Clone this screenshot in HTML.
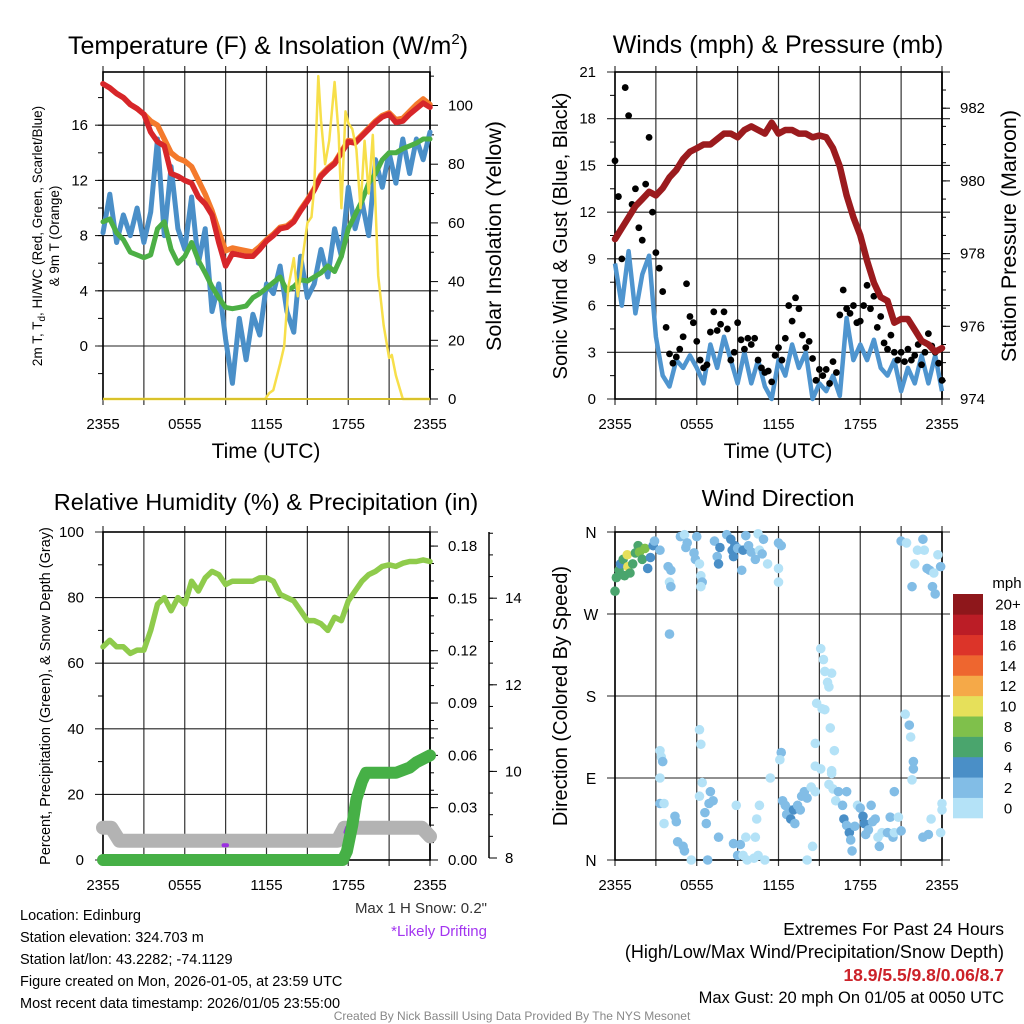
<!DOCTYPE html>
<html><head><meta charset="utf-8"><style>
body{margin:0;background:#fff;}
svg{display:block;font-family:"Liberation Sans",sans-serif;}
</style></head><body>
<svg id="c" width="1024" height="1024" viewBox="0 0 1024 1024"></svg>
<script>
// ---------- data ----------
const halfHours = [0,0.5,1,1.5,2,2.5,3,3.5,4,4.5,5,5.5,6,6.5,7,7.5,8,8.5,9,9.5,10,10.5,11,11.5,12,12.5,13,13.5,14,14.5,15,15.5,16,16.5,17,17.5,18,18.5,19,19.5,20,20.5,21,21.5,22,22.5,23,23.5,24];
const tempRed = [19,18.7,18.3,18.0,17.5,17.2,16.8,15.5,14.8,14.5,12.5,12.3,12.0,11.8,10.8,10.3,9.5,7.5,5.8,6.7,6.6,6.5,6.5,7.0,7.6,8.0,8.5,8.6,9.0,9.8,10.5,11.3,12.3,12.8,13.2,14.0,14.8,14.7,15.2,15.7,16.2,16.6,16.8,16.2,16.3,16.8,17.2,17.6,17.3];
const temp9m = [19,18.7,18.3,18.0,17.5,17.2,16.8,16.3,16.0,15.0,14.0,13.6,13.4,13.0,12.0,11.0,9.8,8.3,6.9,7.1,7.0,6.9,6.8,7.2,7.7,8.1,8.6,8.7,9.1,9.9,10.6,11.4,12.4,12.9,13.3,14.1,14.9,14.8,15.3,15.8,16.3,16.7,16.9,16.4,16.5,17.0,17.5,17.9,17.5];
const dewpoint = [9,9.2,8.2,7.7,6.8,6.6,6.4,6.6,8.5,9.0,7.0,6.0,6.5,7.5,6.2,5.3,4.3,3.5,2.8,2.7,2.8,2.9,3.5,3.8,4.2,4.6,5.0,4.0,4.3,4.8,4.7,5.0,5.3,5.8,5.4,6.5,8.5,9.5,10.5,11.8,12.5,13.5,14.0,14.0,14.3,14.5,14.7,15.0,15.0];
const windChill = [8.2,11,7.5,9.5,8.0,10.0,7.5,9.7,15.0,8.0,13.0,8.5,7.0,10.8,6.0,8.5,2.5,4.5,0.5,-2.7,2.0,-1.0,2.3,0.8,4.5,3.8,5.8,2.5,1.0,6.5,3.5,4.5,7.0,5.0,8.5,6.5,11.5,8.5,10.5,8.0,13.5,11.5,14.0,11.8,15.0,12.5,15.0,13.5,15.5];
const solarTimes = [0,11.9,12.2,12.5,13,13.3,13.6,14,14.3,14.5,14.7,15,15.3,15.5,15.8,16,16.3,16.6,17,17.3,17.5,17.8,18,18.3,18.6,18.9,19.2,19.5,19.8,20.2,20.6,21,21.2,21.5,22,24];
const solarVals = [0,0,2,3,12,18,38,48,35,42,50,60,62,72,110,95,80,88,108,90,65,98,94,92,85,65,88,70,90,42,25,14,15,8,0,0];
const windSpeed = [8.7,6.0,9.5,5.5,8.0,9.2,4.0,1.5,0.8,2.5,2.0,2.8,2.0,1.0,3.5,2.0,4.0,2.5,1.0,3.0,1.0,2.5,0.8,0.0,2.5,1.5,3.5,2.0,3.0,0.0,1.0,0.5,1.5,0.2,5.2,2.5,3.5,2.5,3.8,2.0,1.5,2.5,0.5,2.0,1.0,2.8,1.0,2.8,0.5];
const gustVals = [15.3,13.0,9.0,20.0,18.2,12.5,13.5,11.0,10.2,13.8,16.8,12.0,9.4,8.4,6.9,4.6,2.9,2.3,2.7,3.2,4.0,7.4,5.3,4.9,3.7,2.5,2.0,2.2,4.3,5.6,4.4,4.8,5.6,4.5,2.5,3.0,4.9,3.8,3.2,3.9,3.5,3.9,2.5,2.0,1.7,1.8,1.1,2.8,3.3,2.5,3.9,6.0,5.0,6.5,5.8,4.1,3.3,3.7,2.6,1.2,1.9,1.5,1.9,1.0,2.4,1.7,5.4,7.0,5.8,5.5,6.0,4.9,5.0,6.0,7.3,5.8,6.6,4.6,5.3,3.6,3.2,4.1,3.0,2.5,3.0,2.4,3.2,2.5,2.8,3.5,2.2,3.0,4.2,3.4,3.0,2.3,1.2];
const pressure = [978.4,978.7,979.0,979.3,979.5,979.7,979.6,979.8,980.1,980.3,980.6,980.8,980.9,981.0,981.0,981.15,981.3,981.3,981.2,981.4,981.5,981.4,981.3,981.6,981.3,981.4,981.4,981.3,981.3,981.2,981.25,981.2,980.9,980.4,979.6,979.0,978.5,977.8,977.2,976.8,976.7,976.1,976.2,976.2,975.9,975.6,975.5,975.3,975.4];
const rh = [65,67,65,65,63,64,64,70,78,80,76,80,78,85,82,86,88,87,84,85,85,85,85,86,86,85,81,80,79,76,73,73,72,70,74,73,79,82,85,87,88,89.5,90,89.5,90.5,91,91,91.5,91];
const precipTimes = [0,17.6,17.9,18.3,18.6,19,19.3,20,21.5,22.5,23,24];
const precipVals = [0,0,0.005,0.02,0.035,0.045,0.05,0.05,0.05,0.053,0.056,0.06];
const snowTimes = [0,0.6,1.2,8.5,9.2,17.2,17.7,23.4,24];
const snowVals = [8.7,8.7,8.4,8.4,8.4,8.4,8.7,8.7,8.5];
const dirTimes = [0.0,0.1,0.3,0.4,0.6,0.7,0.9,0.95,1.1,1.3,1.5,1.7,1.8,2.0,2.2,2.4,2.6,2.8,2.9,3.3,3.9,4.1,4.0,4.1,4.0,4.8,5.1,5.3,5.2,5.8,5.9,6.0,6.2,6.3,6.4,6.3,7.3,7.5,7.6,7.7,8.2,8.5,8.6,8.7,8.8,9.0,9.3,9.4,9.6,9.8,10.0,10.3,10.5,10.6,10.8,10.9,11.2,12.0,12.2,12.0,12.0,21.0,21.4,21.8,22.0,22.2,22.6,22.7,22.9,23.1,23.3,23.5,23.7,23.9,23.4,15.1,15.3,15.4,15.6,15.7,14.8,15.2,15.4,15.9,15.8,14.7,14.7,15.1,15.9,16.1,15.9,15.7,16.0,16.4,16.2,16.7,17.0,3.3,3.4,3.5,3.3,3.3,3.6,3.6,4.4,4.5,4.6,5.0,5.1,5.6,6.2,6.3,6.4,6.2,6.6,6.7,6.9,7.0,7.2,6.8,7.6,8.7,8.9,9.0,9.2,9.4,9.6,9.7,10.2,10.5,10.4,10.6,10.3,11.0,11.4,12.2,12.1,12.3,12.5,12.8,12.6,12.9,13.1,13.2,13.4,13.7,13.6,13.9,14.1,14.4,14.7,14.1,14.5,16.8,17.0,17.2,17.3,17.4,17.6,17.8,18.0,18.2,18.3,18.4,18.6,18.8,18.9,19.1,19.3,19.4,19.6,20.0,20.2,20.4,20.5,20.5,20.8,21.0,21.3,21.6,21.7,21.9,21.9,21.8,22.6,23.0,23.2,23.9,24.0,24.0];
const dirDeg = [295,310,318,325,330,312,335,322,315,325,337,345,338,330,342,320,332,345,350,340,322,318,305,300,248,355,357,348,343,337,330,355,325,312,305,300,350,333,325,343,357,352,340,333,345,342,318,340,356,345,338,330,358,340,336,352,325,348,345,320,305,350,348,300,325,340,352,340,320,318,300,292,335,322,315,232,220,207,195,190,172,166,165,205,145,128,103,100,98,120,95,83,78,75,65,60,75,120,113,108,90,62,62,40,48,42,20,15,10,0,143,127,85,70,52,40,62,75,65,0,25,18,60,5,17,5,25,0,2,5,45,60,25,0,90,118,110,65,60,55,50,45,55,40,60,70,55,75,68,80,75,0,15,45,38,30,22,10,37,60,57,48,40,28,33,60,42,45,25,15,30,30,47,25,75,30,47,32,160,148,135,108,100,88,25,28,45,30,62,55];
const dirSpeed = [7,6,7,4,7,6,10,10,7,6,7,6,8,7,8,4,5,4,3,2,2,2,1,2,3,2,1,2,2,2,2,3,1,1,2,1,2,3,4,4,2,4,4,4,4,2,3,4,2,2,2,2,0,1,2,2,1,2,3,1,1,3,1,2,1,1,3,1,2,2,3,3,1,3,1,0,0,0,1,1,1,1,1,0,0,0,0,1,0,0,0,0,1,3,0,2,2,1,1,3,1,3,1,1,3,3,3,3,2,0,1,1,1,1,3,3,2,3,3,3,2,3,1,2,3,1,1,1,1,0,1,1,1,0,1,3,1,2,2,3,3,4,4,3,3,3,3,2,2,1,1,0,1,4,3,4,2,3,2,1,3,4,4,3,3,2,3,3,1,2,1,3,3,3,3,1,1,2,1,3,1,2,3,1,3,3,1,1,1,1];
const timeTicks = ["2355","0555","1155","1755","2355"];
const speedBinLabels = ["0","2","4","6","8","10","12","14","16","18","20+"];
const speedColors = ["#b4e2f7","#82bde6","#4a8fc7","#4aa56d","#7fc04b","#e6e05a","#f5a948","#ee662f","#dc3429","#bb1d26","#8e171b"];

// ---------- helpers ----------
const NS="http://www.w3.org/2000/svg";
const svg=document.getElementById('c');
function mk(tag,attrs,parent){const e=document.createElementNS(NS,tag);for(const k in attrs)e.setAttribute(k,attrs[k]);(parent||svg).appendChild(e);return e;}
function txt(s,x,y,size,opts,parent){opts=opts||{};const e=mk('text',{x:x,y:y,'font-size':size,'text-anchor':opts.anchor||'middle',fill:opts.fill||'#000'},parent);if(opts.weight)e.setAttribute('font-weight',opts.weight);if(opts.rot)e.setAttribute('transform','rotate(-90 '+x+' '+y+')');e.textContent=s;return e;}
const L=103,R=430,L2=615,R2=942;
function xT(t,left){return left+t*(327/24);}
function pathFrom(ts,vs,xf,yf){let d='';for(let i=0;i<ts.length;i++){d+=(i?'L':'M')+xf(ts[i]).toFixed(1)+' '+yf(vs[i]).toFixed(1);}return d;}

function frame(left,top,bottom,name){
  const g=mk('g',{});
  
  
  for(let i=0;i<=8;i++){const x=left+i*327/8;mk('line',{x1:x,x2:x,y1:top-6,y2:bottom+6,stroke:'#333','stroke-width':1.2},g);}
  return g;
}
function hgrid(left,y,g){mk('line',{x1:left-8,x2:left+327+8,y1:y,y2:y,stroke:'#222','stroke-width':1.1},g);}
function timeAxis(left,bottom,name,withTitle){
  timeTicks.forEach((s,i)=>{const t=txt(s,left+i*327/4,bottom+30,15);
    
    });
  if(withTitle){const t=txt('Time (UTC)',left+163,bottom+59,21);
    
    }
}

// ===== Panel 1: Temperature =====
(function(){
  const top=72,bot=399;
  const yT=v=>346-v*13.8;
  const yS=v=>399-v*2.935;
  const g=frame(L,top,bot,'temperature');
  [0,4,8,12,16].forEach(v=>{hgrid(L,yT(v),g);const t=txt(String(v),88,yT(v)+5,15,{anchor:'end'});
    
    });
  for(let v=-2;v<=18;v+=2){mk('line',{x1:L-5,x2:L,y1:yT(v),y2:yT(v),stroke:'#000'},g);}
  mk('line',{x1:R,x2:R,y1:top,y2:bot,stroke:'#000','stroke-width':1.5},g);
  [0,20,40,60,80,100].forEach(v=>{mk('line',{x1:R,x2:R+8,y1:yS(v),y2:yS(v),stroke:'#000'},g);const t=txt(String(v),448,yS(v)+5,15,{anchor:'start'});
    
    });
  for(let v=10;v<=110;v+=20){mk('line',{x1:R,x2:R+4,y1:yS(v),y2:yS(v),stroke:'#000'},g);}
  mk('rect',{x:L,y:top,width:327,height:bot-top,fill:'none',stroke:'#000','stroke-width':1.6},g);
  const xf=t=>xT(t,L);
  const series=[[windChill,'#4a8fc8',5,'wind-chill-line'],[dewpoint,'#4caf45',5,'dewpoint-line'],[temp9m,'#f47a2c',5.5,'temp-9m-line'],[tempRed,'#d7262a',5.5,'temp-2m-line']];
  series.forEach(s=>{const p=mk('path',{d:pathFrom(halfHours,s[0],xf,yT),fill:'none',stroke:s[1],'stroke-width':s[2],'stroke-linejoin':'round','stroke-linecap':'round'});
    
    });
  const p=mk('path',{d:pathFrom(solarTimes,solarVals,xf,yS),fill:'none',stroke:'#f7df4a','stroke-width':2.5,'stroke-linejoin':'round'});
  
  
  mk('line',{x1:L,x2:R,y1:bot,y2:bot,stroke:'#d9c22a','stroke-width':2});
  const t1=txt('',268,54,25);t1.innerHTML='Temperature (F) &amp; Insolation (W/m<tspan font-size="15" dy="-10">2</tspan><tspan dy="10">)</tspan>';
  
  
  const a=txt('',42,236,13.5,{rot:true});a.innerHTML='2m T, T<tspan font-size="10" dy="3">d</tspan><tspan dy="-3">, HI/WC (Red, Green, Scarlet/Blue)</tspan>';
  
  
  const b=txt('& 9m T (Orange)',59,236,13.5,{rot:true});
  
  
  const c=txt('Solar Insolation (Yellow)',501,236,21.5,{rot:true});
  
  
  timeAxis(L,bot,'temperature',true);
})();

// ===== Panel 2: Winds =====
(function(){
  const top=72,bot=399;
  const yW=v=>399-v*(327/21);
  const yP=v=>399-(v-974)*36.35;
  const g=frame(L2,top,bot,'winds');
  [0,3,6,9,12,15,18,21].forEach(v=>{hgrid(L2,yW(v),g);const t=txt(String(v),596,yW(v)+5,15,{anchor:'end'});
    
    });
  for(let v=1.5;v<21;v+=3){mk('line',{x1:L2-5,x2:L2,y1:yW(v),y2:yW(v),stroke:'#000'},g);}
  mk('line',{x1:R2,x2:R2,y1:top,y2:bot,stroke:'#000','stroke-width':1.5},g);
  [974,976,978,980,982].forEach(v=>{mk('line',{x1:R2,x2:R2+8,y1:yP(v),y2:yP(v),stroke:'#000'},g);const t=txt(String(v),960,yP(v)+5,15,{anchor:'start'});
    
    });
  for(let v=974.5;v<983;v+=0.5){mk('line',{x1:R2,x2:R2+4,y1:yP(v),y2:yP(v),stroke:'#000'},g);}
  mk('rect',{x:L2,y:top,width:327,height:bot-top,fill:'none',stroke:'#000','stroke-width':1.6},g);
  const xf=t=>xT(t,L2);
  const w=mk('path',{d:pathFrom(halfHours,windSpeed,xf,yW),fill:'none',stroke:'#4f95cf','stroke-width':4.5,'stroke-linejoin':'round'});
  
  
  const gg=mk('g',{});
  
  
  gustVals.forEach((v,i)=>{const c=mk('circle',{cx:xf(i*0.25),cy:yW(v),r:3.4,fill:'#000'},gg);
    
    });
  const p=mk('path',{d:pathFrom(halfHours,pressure,xf,yP),fill:'none',stroke:'#9b1b1e','stroke-width':6.5,'stroke-linejoin':'round','stroke-linecap':'round'});
  
  
  const t=txt('Winds (mph) & Pressure (mb)',778,53,25);
  
  
  const a=txt('Sonic Wind & Gust (Blue, Black)',567,236,20,{rot:true});
  
  
  const b=txt('Station Pressure (Maroon)',1016,236,21.5,{rot:true});
  
  
  timeAxis(L2,bot,'winds',true);
})();

// ===== Panel 3: RH & Precip =====
(function(){
  const top=532,bot=860;
  const yR=v=>860-v*3.28;
  const yPr=v=>860-v*1744;
  const yS=v=>858-(v-8)*43.3;
  const g=frame(L,top,bot,'humidity');
  [0,20,40,60,80,100].forEach(v=>{hgrid(L,yR(v),g);const t=txt(String(v),84,yR(v)+5,15,{anchor:'end'});
    
    });
  for(let v=10;v<100;v+=20){mk('line',{x1:L-5,x2:L,y1:yR(v),y2:yR(v),stroke:'#000'},g);}
  mk('line',{x1:R,x2:R,y1:top,y2:bot,stroke:'#000','stroke-width':1.5},g);
  ['0.00','0.03','0.06','0.09','0.12','0.15','0.18'].forEach((s,i)=>{const v=i*0.03;mk('line',{x1:R,x2:R+8,y1:yPr(v),y2:yPr(v),stroke:'#000'},g);const t=txt(s,448,yPr(v)+5,15,{anchor:'start'});
    
    });
  for(let v=0.01;v<0.19;v+=0.01){mk('line',{x1:R,x2:R+4,y1:yPr(v),y2:yPr(v),stroke:'#000'},g);}
  mk('line',{x1:489,x2:489,y1:top,y2:858,stroke:'#000','stroke-width':1.5},g);
  [8,10,12,14].forEach(v=>{mk('line',{x1:489,x2:497,y1:yS(v),y2:yS(v),stroke:'#000'},g);const t=txt(String(v),505,yS(v)+5,15,{anchor:'start'});
    
    });
  for(let v=8.5;v<15.6;v+=0.5){mk('line',{x1:489,x2:493,y1:yS(v),y2:yS(v),stroke:'#000'},g);}
  mk('rect',{x:L,y:top,width:327,height:bot-top,fill:'none',stroke:'#000','stroke-width':1.6},g);
  const xf=t=>xT(t,L);
  const s=mk('path',{d:pathFrom(snowTimes,snowVals,xf,yS),fill:'none',stroke:'#b3b3b3','stroke-width':14,'stroke-linejoin':'round','stroke-linecap':'round'});
  
  
  const d1=mk('path',{d:'M'+xf(8.85)+' '+yR(4.5)+'L'+xf(9.1)+' '+yR(4.5),stroke:'#9b30e0','stroke-width':4,'stroke-linecap':'round'});
  
  
  const d2=mk('path',{d:'M'+xf(17.8)+' '+yR(8.5)+'L'+xf(17.9)+' '+yR(9.7)+'L'+xf(18.1)+' '+yR(9.7),fill:'none',stroke:'#9b30e0','stroke-width':4,'stroke-linecap':'round'});
  
  
  const p=mk('path',{d:pathFrom(precipTimes,precipVals,xf,yPr),fill:'none',stroke:'#46b046','stroke-width':12,'stroke-linejoin':'round','stroke-linecap':'round'});
  
  
  const r=mk('path',{d:pathFrom(halfHours,rh,xf,yR),fill:'none',stroke:'#8fcb4c','stroke-width':5.5,'stroke-linejoin':'round','stroke-linecap':'round'});
  
  
  const t=txt('Relative Humidity (%) & Precipitation (in)',266,510,23.5);
  
  
  const a=txt('Percent, Precipitation (Green), & Snow Depth (Gray)',50,696,14.5,{rot:true});
  
  
  timeAxis(L,bot,'humidity',false);
})();

// ===== Panel 4: Wind Direction =====
(function(){
  const top=532,bot=860;
  const yD=v=>860-v*(328/360);
  const g=frame(L2,top,bot,'wind-direction');
  ['N','E','S','W','N'].forEach((s,i)=>{hgrid(L2,yD(i*90),g);const t=txt(s,591,yD(i*90)+6,15.5,{anchor:'middle'});
    
    });
  mk('rect',{x:L2,y:top,width:327,height:bot-top,fill:'none',stroke:'#000','stroke-width':1.6},g);
  const xf=t=>xT(t,L2);
  const gg=mk('g',{});
  
  
  dirTimes.forEach((t,i)=>{const bin=Math.min(10,Math.floor(dirSpeed[i]/2));const c=mk('circle',{cx:xf(t),cy:yD(dirDeg[i]),r:4.8,fill:speedColors[bin]},gg);
    
    });
  const lg=mk('g',{});
  
  
  const bh=(818-594)/11;
  speedColors.forEach((col,i)=>{const y=818-(i+1)*bh;const r=mk('rect',{x:953,y:y,width:30,height:bh+0.3,fill:col},lg);
    
    
    const t=txt(speedBinLabels[i],1008,y+bh/2+5.5,15,{},lg);
    
    });
  const u=txt('mph',1007,588,15);
  
  
  const t=txt('Wind Direction',778,506,23.5);
  
  
  const a=txt('Direction (Colored By Speed)',567,696,20,{rot:true});
  
  
  timeAxis(L2,bot,'wind-direction',false);
})();

// ===== Footer text =====
[['Location: Edinburg',920],['Station elevation: 324.703 m',942],['Station lat/lon: 43.2282; -74.1129',964],['Figure created on Mon, 2026-01-05, at 23:59 UTC',986],['Most recent data timestamp: 2026/01/05 23:55:00',1008]].forEach(a=>{
  const t=txt(a[0],20,a[1],14.5,{anchor:'start'});
  
  
});
let e;
e=txt('Max 1 H Snow: 0.2"',487,913,15,{anchor:'end',fill:'#333'});


e=txt('*Likely Drifting',487,936,15,{anchor:'end',fill:'#a335f0'});


e=txt('Extremes For Past 24 Hours',1004,935,17.5,{anchor:'end'});


e=txt('(High/Low/Max Wind/Precipitation/Snow Depth)',1004,958,18,{anchor:'end'});


e=txt('18.9/5.5/9.8/0.06/8.7',1004,981,17.5,{anchor:'end',fill:'#cc2229',weight:'bold'});


e=txt('Max Gust: 20 mph On 01/05 at 0050 UTC',1004,1003,16.5,{anchor:'end'});


e=txt('Created By Nick Bassill Using Data Provided By The NYS Mesonet',512,1020,12,{fill:'#888'});


</script>
</body></html>
